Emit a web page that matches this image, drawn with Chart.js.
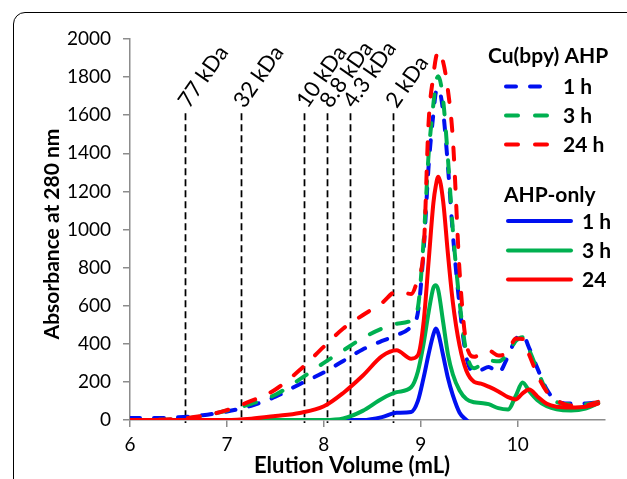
<!DOCTYPE html>
<html>
<head>
<meta charset="utf-8">
<title>Elution profile</title>
<script src="https://cdn.jsdelivr.net/npm/chart.js@4.4.1/dist/chart.umd.min.js"></script>
<style>
  html, body { margin: 0; padding: 0; background: #fff; overflow: hidden; }
  #wrap { position: relative; width: 627px; height: 479px; }
  #frame { position: absolute; left: 13px; top: 12px; width: 700px; height: 600px; border: 1.5px solid #000; border-top-left-radius: 12px; }
  #chart { position: absolute; left: 0; top: 0; }
</style>
</head>
<body>
<div id="wrap">
  <div id="frame"></div>
  <canvas id="chart" width="627" height="479"></canvas>
</div>
<script>
// elution volume (mL), shared by every trace
const volume = [6.0, 6.25, 6.5, 6.75, 7.0, 7.25, 7.5, 7.75, 8.0, 8.2, 8.4, 8.6, 8.75, 8.9, 8.97,
  9.03, 9.08, 9.13, 9.155, 9.18, 9.23, 9.28, 9.33, 9.4, 9.47, 9.55, 9.62, 9.7, 9.8, 9.9,
  9.98, 10.05, 10.12, 10.2, 10.3, 10.4, 10.55, 10.7, 10.83];

// Cu(bpy) AHP (dashed)
const cuBpy1h = [10, 10, 14, 25, 45, 75, 122, 188, 250, 310, 370, 415, 445, 492, 565,
  900, 1330, 1610, 1720, 1740, 1620, 1330, 980, 600, 330, 252, 262, 278, 248, 335,
  425, 445, 375, 275, 160, 100, 86, 87, 92];
const cuBpy3h = [0, 1, 5, 20, 50, 85, 133, 213, 300, 365, 430, 480, 505, 522, 590,
  950, 1390, 1660, 1770, 1804, 1680, 1370, 1000, 620, 355, 272, 290, 312, 308, 350,
  415, 435, 365, 265, 150, 95, 82, 83, 92];
const cuBpy24h = [0, 1, 6, 22, 52, 100, 160, 262, 385, 480, 550, 615, 675, 662, 745,
  900, 1560, 1810, 1900, 1936, 1880, 1730, 1480, 780, 400, 332, 348, 365, 338, 360,
  428, 425, 340, 240, 148, 104, 76, 77, 95];

// AHP-only (solid)
const ahp1h = [0, 0, 0, 0, 0, 0, 0, 0, 0, 0, 0, 15, 38, 42, 100,
  225, 345, 450, 480, 455, 340, 220, 130, 38, 0, -30, -30, -30, -30, -30,
  -30, -30, -30, -30, -30, -30, -30, -30, -30];
const ahp3h = [0, 0, 0, 0, 0, 0, 0, 0, 0, 8, 48, 112, 146, 172, 255,
  405, 565, 695, 708, 682, 515, 345, 240, 155, 110, 93, 89, 83, 62, 55,
  128, 197, 150, 105, 72, 56, 50, 60, 88];
const ahp24 = [0, 0, 0, 0, 0, 7, 21, 37, 72, 142, 232, 335, 366, 322, 340,
  520, 830, 1140, 1230, 1277, 1150, 870, 620, 390, 258, 200, 191, 175, 150, 120,
  108, 140, 160, 125, 85, 70, 66, 70, 86];

const seriesLabels = ['1 h', '3 h', '24 h', '1 h', '3 h', '24'];
const groupTitles = ['Cu(bpy) AHP', 'AHP-only'];

// calibration standards
const markerLabels = ['77 kDa', '32 kDa', '10 kDa', '8.8 kDa', '4.3 kDa', '2 kDa'];
const markerVolumes = [6.57, 7.14, 7.79, 8.03, 8.27, 8.71];
const markerTop = 1610;

const xTicks = [6, 7, 8, 9, 10];
const yTicks = [0, 200, 400, 600, 800, 1000, 1200, 1400, 1600, 1800, 2000];

const BLUE = '#0010f0';
const GREEN = '#00b050';
const RED = '#ff0000';
const AXIS = '#8c8c8c';

function series(values, label, color, dash, order) {
  return {
    label: label,
    data: volume.map((v, i) => ({ x: v, y: values[i] })),
    borderColor: color,
    borderDash: dash,
    order: order
  };
}

const datasets = [
  series(cuBpy1h, seriesLabels[0], BLUE, [10, 14], 6),
  series(cuBpy3h, seriesLabels[1], GREEN, [12, 17], 5),
  series(cuBpy24h, seriesLabels[2], RED, [12, 17], 4),
  series(ahp1h, seriesLabels[3], BLUE, [], 3),
  series(ahp3h, seriesLabels[4], GREEN, [], 2),
  series(ahp24, seriesLabels[5], RED, [], 1)
];

// dashed size-standard lines with slanted labels, under the traces
const markerPlugin = {
  id: 'markers',
  beforeDatasetsDraw(chart) {
    const { ctx, scales: { x, y } } = chart;
    const top = y.getPixelForValue(markerTop);
    ctx.save();
    ctx.strokeStyle = '#000';
    ctx.lineWidth = 1.75;
    ctx.setLineDash([7, 4]);
    markerVolumes.forEach(v => {
      const px = Math.round(x.getPixelForValue(v)) + 0.5;
      ctx.beginPath();
      ctx.moveTo(px, top);
      ctx.lineTo(px, y.bottom + 3);
      ctx.stroke();
    });
    ctx.setLineDash([]);
    ctx.fillStyle = '#000';
    ctx.font = '22px Lato';
    ctx.textAlign = 'left';
    ctx.textBaseline = 'alphabetic';
    markerLabels.forEach((t, i) => {
      const px = x.getPixelForValue(markerVolumes[i]);
      ctx.save();
      ctx.translate(px + 4, top - 4);
      ctx.rotate(-55 * Math.PI / 180);
      ctx.fillText(t, 0, 0);
      ctx.restore();
    });
    ctx.restore();
  }
};

// two-group legend and axis titles
const legendPlugin = {
  id: 'groupLegend',
  afterDraw(chart) {
    const ctx = chart.ctx;
    const ds = chart.data.datasets;
    ctx.save();
    ctx.fillStyle = '#000';
    ctx.font = 'bold 21px Lato';
    ctx.textAlign = 'left';
    ctx.textBaseline = 'alphabetic';

    ctx.fillText(groupTitles[0], 488, 63);
    ctx.fillText(groupTitles[1], 504, 202);

    const rows = [
      { y: 86.5, x1: 506, x2: 554, tx: 563 },
      { y: 115.5, x1: 506, x2: 554, tx: 563 },
      { y: 144.5, x1: 506, x2: 554, tx: 563 },
      { y: 221, x1: 508, x2: 571, tx: 582 },
      { y: 250.5, x1: 508, x2: 571, tx: 582 },
      { y: 279.5, x1: 508, x2: 571, tx: 582 }
    ];
    rows.forEach((r, i) => {
      const d = ds[i];
      ctx.save();
      ctx.strokeStyle = d.borderColor;
      ctx.lineWidth = 4;
      ctx.lineCap = 'round';
      ctx.setLineDash(d.borderDash);
      ctx.beginPath();
      ctx.moveTo(r.x1, r.y);
      ctx.lineTo(r.x2, r.y);
      ctx.stroke();
      ctx.restore();
      ctx.fillText(d.label, r.tx, r.y + 7.5);
    });

    ctx.font = 'bold 22px Lato';
    ctx.textAlign = 'center';
    ctx.fillText('Elution Volume (mL)', 352, 473);
    ctx.font = 'bold 21px Lato';
    ctx.translate(58.5, 234);
    ctx.rotate(-Math.PI / 2);
    ctx.fillText('Absorbance at 280 nm', 0, 0);
    ctx.restore();
  }
};

new Chart(document.getElementById('chart'), {
  type: 'line',
  data: { datasets: datasets },
  plugins: [markerPlugin, legendPlugin],
  options: {
    responsive: false,
    animation: false,
    events: [],
    layout: { padding: { top: 39, right: 22, left: 0, bottom: 0 } },
    elements: {
      point: { radius: 0 },
      line: {
        borderWidth: 4,
        cubicInterpolationMode: 'monotone',
        borderCapStyle: 'round',
        borderJoinStyle: 'round',
        fill: false
      }
    },
    plugins: {
      legend: { display: false },
      tooltip: { enabled: false }
    },
    scales: {
      x: {
        type: 'linear',
        min: 6,
        max: 10.9,
        afterBuildTicks: s => { s.ticks = xTicks.map(v => ({ value: v })); },
        afterFit: s => { s.height = 59; },
        grid: { drawOnChartArea: false, color: AXIS, lineWidth: 1.5, tickLength: 7 },
        border: { color: AXIS, width: 1.5 },
        ticks: { color: '#000', font: { family: 'Lato', size: 19 }, padding: 6, maxRotation: 0, callback: v => String(v) }
      },
      y: {
        min: 0,
        max: 2000,
        afterBuildTicks: s => { s.ticks = yTicks.map(v => ({ value: v })); },
        afterFit: s => { s.width = 130; },
        grid: { drawOnChartArea: false, color: AXIS, lineWidth: 1.5, tickLength: 7 },
        border: { color: AXIS, width: 1.5 },
        ticks: { color: '#000', font: { family: 'Lato', size: 19 }, padding: 12, callback: v => String(v) }
      }
    }
  }
});
</script>
</body>
</html>
